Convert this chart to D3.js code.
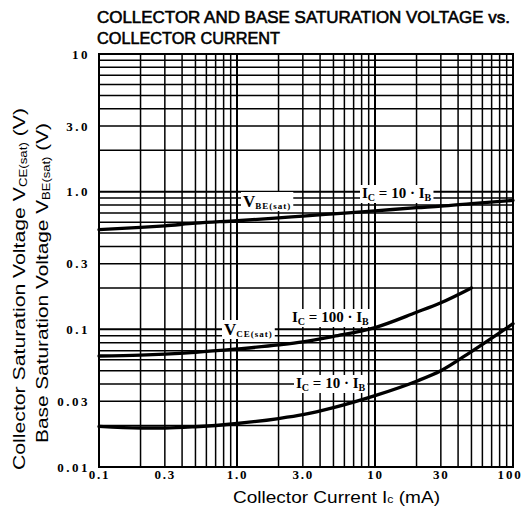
<!DOCTYPE html>
<html>
<head>
<meta charset="utf-8">
<title>Collector and Base Saturation Voltage vs. Collector Current</title>
<script src="https://cdnjs.cloudflare.com/ajax/libs/d3/7.8.5/d3.min.js"></script>
<style>
	body { margin: 0; background: #fff; }
	svg { display: block; }
</style>
</head>
<body>
<svg id="chart" width="525" height="517"></svg>
<script>

	// collector current, mA
	var current = [0.1, 0.2, 0.3, 0.5, 1, 2, 3, 5, 10, 20, 30, 50, 100];
	// VBE(sat) at Ic = 10*Ib
	var vbeSat10 = [0.53, 0.55, 0.565, 0.59, 0.615, 0.645, 0.665, 0.69, 0.725, 0.765, 0.785, 0.82, 0.865];
	// VCE(sat) at Ic = 100*Ib (curve stops at 50 mA)
	var vceSat100 = [0.064, 0.065, 0.066, 0.068, 0.072, 0.077, 0.081, 0.089, 0.103, 0.133, 0.156, 0.2];
	// VCE(sat) at Ic = 10*Ib
	var vceSat10 = [0.0197, 0.0192, 0.0192, 0.0196, 0.0207, 0.0225, 0.024, 0.027, 0.033, 0.042, 0.050, 0.069, 0.11];

	var xTicks = [0.1, 0.3, 1, 3, 10, 30, 100];
	var xTickLabels = ["0.1", "0.3", "1.0", "3.0", "10", "30", "100"];
	var yTicks = [0.01, 0.03, 0.1, 0.3, 1, 3, 10];
	var yTickLabels = ["0.01", "0.03", "0.1", "0.3", "1.0", "3.0", "10"];

	var svg = d3.select("#chart");

	var x = d3.scaleLog().domain([0.1, 100]).range([99, 513]);
	var y = d3.scaleLog().domain([0.01, 10]).range([467, 54]);

	// log grid values 1..9 in every decade
	function gridValues(lo, hi) {
		var out = [];
		for (var d = lo; d < hi * 0.99; d *= 10) {
			for (var k = 1; k < 10; k++) out.push(+(k * d).toPrecision(3));
		}
		out.push(hi);
		return out;
	}

	var grid = svg.append("g").attr("stroke", "#000");

	grid.selectAll("line.v")
		.data(gridValues(0.1, 100))
		.enter().append("line")
		.attr("class", "v")
		.attr("x1", function(d) { return x(d); })
		.attr("x2", function(d) { return x(d); })
		.attr("y1", y(10))
		.attr("y2", y(0.01))
		.attr("stroke-width", function(d, i) { return (i % 9 === 0) ? 2 : 1.5; });

	grid.selectAll("line.h")
		.data(gridValues(0.01, 10))
		.enter().append("line")
		.attr("class", "h")
		.attr("x1", x(0.1))
		.attr("x2", x(100))
		.attr("y1", function(d) { return y(d); })
		.attr("y2", function(d) { return y(d); })
		.attr("stroke-width", function(d, i) { return (i % 9 === 0) ? 2 : 1.5; });

	svg.append("rect")
		.attr("x", x(0.1))
		.attr("y", y(10))
		.attr("width", x(100) - x(0.1))
		.attr("height", y(0.01) - y(10))
		.attr("fill", "none")
		.attr("stroke", "#000")
		.attr("stroke-width", 2);

	// axes, tick labels only
	var yAxis = svg.append("g")
		.attr("transform", "translate(" + x(0.1) + ",0)")
		.call(d3.axisLeft(y).tickValues(yTicks).tickSize(0).tickPadding(9)
			.tickFormat(function(d, i) { return yTickLabels[i]; }));
	yAxis.select(".domain").remove();

	var xAxis = svg.append("g")
		.attr("transform", "translate(0," + y(0.01) + ")")
		.call(d3.axisBottom(x).tickValues(xTicks).tickSize(0).tickPadding(3)
			.tickFormat(function(d, i) { return xTickLabels[i]; }));
	xAxis.select(".domain").remove();

	svg.selectAll(".tick text")
		.attr("font-family", "'Liberation Serif', serif")
		.attr("font-weight", "bold")
		.attr("font-size", 13)
		.attr("letter-spacing", 2.5)
		.attr("fill", "#000");

	// keep the last x label inside the page
	xAxis.selectAll(".tick text")
		.attr("letter-spacing", 1.8)
		.filter(function(d) { return d === 100; })
		.attr("text-anchor", "end")
		.attr("x", 9);

	// curves
	var line = d3.line()
		.x(function(d) { return x(d[0]); })
		.y(function(d) { return y(d[1]); })
		.curve(d3.curveMonotoneX);

	var series = [vbeSat10, vceSat100, vceSat10];
	series.forEach(function(vals) {
		svg.append("path")
			.datum(vals.map(function(v, i) { return [current[i], v]; }))
			.attr("fill", "none")
			.attr("stroke", "#000")
			.attr("stroke-width", 3.3)
			.attr("stroke-linecap", "round")
			.attr("d", line);
	});

	// in-plot labels with white knockout
	function label(px, py, parts) {
		var g = svg.append("g");
		var t = g.append("text")
			.attr("x", px).attr("y", py)
			.attr("font-family", "'Liberation Serif', serif")
			.attr("font-weight", "bold")
			.attr("fill", "#000");
		parts.forEach(function(p) {
			t.append("tspan")
				.attr("font-size", p.size)
				.attr("dy", p.dy || 0)
				.attr("letter-spacing", p.ls || 0)
				.text(p.text);
		});
		var bb = t.node().getBBox();
		g.insert("rect", "text")
			.attr("x", bb.x - 2).attr("y", bb.y)
			.attr("width", bb.width + 4).attr("height", bb.height)
			.attr("fill", "#fff");
	}

	label(243, 207, [{text: "V", size: 17}, {text: "BE(sat)", size: 9, dy: 2, ls: 1}]);
	label(362, 198, [{text: "I", size: 15}, {text: "C", size: 10, dy: 3}, {text: " = 10 · I", size: 15, dy: -3}, {text: "B", size: 10, dy: 3}]);
	label(292, 322, [{text: "I", size: 15}, {text: "C", size: 10, dy: 3}, {text: " = 100 · I", size: 15, dy: -3}, {text: "B", size: 10, dy: 3}]);
	label(224, 335, [{text: "V", size: 17}, {text: "CE(sat)", size: 9, dy: 2, ls: 1}]);
	label(296, 388, [{text: "I", size: 15}, {text: "C", size: 10, dy: 3}, {text: " = 10 · I", size: 15, dy: -3}, {text: "B", size: 10, dy: 3}]);

	// title
	var title = svg.append("g")
		.attr("font-family", "'Liberation Sans', Arial, sans-serif")
		.attr("font-size", 17)
		.attr("fill", "#000")
		.attr("stroke", "#000")
		.attr("stroke-width", 0.6);
	title.append("text").attr("x", 97).attr("y", 23)
		.attr("textLength", 413).attr("lengthAdjust", "spacingAndGlyphs")
		.text("COLLECTOR AND BASE SATURATION VOLTAGE vs.");
	title.append("text").attr("x", 97).attr("y", 44)
		.attr("textLength", 183).attr("lengthAdjust", "spacingAndGlyphs")
		.text("COLLECTOR CURRENT");

	// axis titles
	var xt = svg.append("text")
		.attr("x", 233).attr("y", 503)
		.attr("textLength", 207).attr("lengthAdjust", "spacingAndGlyphs")
		.attr("font-family", "'Liberation Sans', Arial, sans-serif")
		.attr("font-size", 17)
		.attr("fill", "#000");
	xt.append("tspan").text("Collector Current  I");
	xt.append("tspan").attr("font-size", 11).text("c");
	xt.append("tspan").text(" (mA)");

	var yt1 = svg.append("text")
		.attr("transform", "translate(25,470) rotate(-90)")
		.attr("textLength", 362).attr("lengthAdjust", "spacingAndGlyphs")
		.attr("font-family", "'Liberation Sans', Arial, sans-serif")
		.attr("font-size", 16)
		.attr("fill", "#000");
	yt1.append("tspan").text("Collector Saturation Voltage  V");
	yt1.append("tspan").attr("font-size", 10).attr("dy", 2).text("CE(sat)");
	yt1.append("tspan").attr("dy", -2).text(" (V)");

	var yt2 = svg.append("text")
		.attr("transform", "translate(48,443) rotate(-90)")
		.attr("textLength", 320).attr("lengthAdjust", "spacingAndGlyphs")
		.attr("font-family", "'Liberation Sans', Arial, sans-serif")
		.attr("font-size", 16)
		.attr("fill", "#000");
	yt2.append("tspan").text("Base Saturation Voltage  V");
	yt2.append("tspan").attr("font-size", 10).attr("dy", 2).text("BE(sat)");
	yt2.append("tspan").attr("dy", -2).text(" (V)");

</script>
</body>
</html>
